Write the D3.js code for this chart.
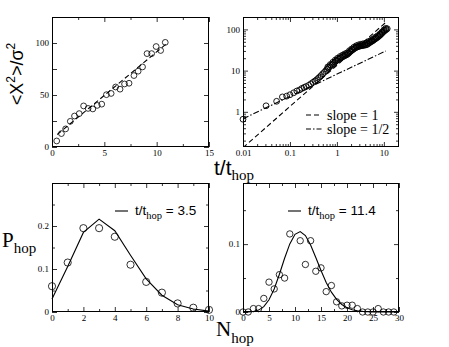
<!DOCTYPE html>
<html>
<head>
<meta charset="utf-8">
<script src="https://cdn.jsdelivr.net/npm/d3@7"></script>
<style>
body { margin: 0; background: #fff; }
.tick text { font-family: "Liberation Serif", "Times New Roman", serif; font-size: 9px; fill: #000; }
.tick line { stroke: #000; stroke-width: 0.8; }
.sans { font-family: "Liberation Sans", Arial, sans-serif; }
.serif { font-family: "Liberation Serif", "Times New Roman", serif; }
</style>
</head>
<body>
<svg id="chart" width="449" height="347"></svg>
<script>
// ---- top left: <X^2>/sigma^2 vs t/t_hop (linear)
var msdT = [0.45, 0.9, 1.3, 1.75, 2.15, 2.6, 3.02, 3.45, 3.9, 4.32, 4.75, 5.2, 5.65, 6.08, 6.5, 6.93, 7.36, 7.83, 8.23, 8.65, 9.08, 9.52, 9.95, 10.38, 10.82];
var msdV = [5.8, 12.9, 17.4, 24.7, 29.8, 32.1, 39.5, 37.1, 36.6, 40, 41.2, 50.3, 51.5, 57.7, 55.6, 60.6, 61.3, 68.7, 72.9, 77, 89.8, 89.8, 96.6, 92.8, 100.6];
var fitT = [0.5, 10.9];
var fitV = [12, 99];

// ---- top right: same on log-log
var logT = [0.01, 0.031, 0.052, 0.069, 0.085, 0.1, 0.12, 0.14, 0.16, 0.18, 0.2, 0.22, 0.25, 0.28,
  0.31, 0.34, 0.37, 0.4, 0.43, 0.46, 0.5, 0.54, 0.58, 0.62, 0.66, 0.7, 0.75, 0.8, 0.85, 0.9, 0.95,
  1.0, 1.07, 1.14, 1.21, 1.28, 1.36, 1.44, 1.52, 1.61, 1.7, 1.8, 1.9, 2.0, 2.12, 2.24, 2.36, 2.5,
  2.64, 2.78, 2.94, 3.1, 3.27, 3.45, 3.64, 3.84, 4.05, 4.27, 4.5, 4.75, 5.0, 5.27, 5.55, 5.85,
  6.16, 6.49, 6.84, 7.2, 7.6, 8.0, 8.4, 8.85, 9.3, 9.8, 10.3, 10.8, 11.3, 11.8];
var logV = [0.66, 1.4, 1.8, 2.3, 2.4, 2.6, 2.9, 3.2, 3.4, 3.7, 3.9, 4.1, 4.4, 4.8,
  5.2, 5.6, 6.0, 6.5, 7.0, 7.6, 8.4, 9.1, 10.0, 10.8, 11.6, 12.4, 13.3, 14.2, 15.0, 16.0, 17.0,
  17.8, 18.8, 19.8, 20.5, 21.2, 22.0, 22.8, 23.5, 24.2, 25.3, 26.8, 28.5, 30.0, 31.5, 33.0, 34.5, 36.0,
  37.0, 38.0, 38.8, 39.5, 40.0, 40.5, 41.0, 41.5, 42.0, 42.5, 44.0, 46.0, 48.0, 50.0, 51.5, 53.5,
  56.0, 58.5, 61.0, 63.5, 66.5, 70.0, 73.5, 78.0, 83.0, 88.0, 92.0, 97.0, 100.0, 104.0];
// the upper edge of the dense band
var logT2 = [0.64, 0.72, 0.82, 0.92, 1.03, 1.17, 1.32, 1.48, 1.65, 1.85, 2.06, 2.3, 2.57, 2.86,
  3.18, 3.54, 3.94, 4.38, 4.87, 5.4, 6.0, 6.66, 7.4, 8.2, 9.05, 10.0, 11.0];
var logV2 = [12.3, 14.0, 16.0, 18.0, 20.0, 22.0, 23.8, 25.5, 27.0, 30.5, 33.5, 37.0, 40.0, 42.0,
  43.5, 44.5, 45.5, 47.5, 51.5, 55.0, 59.0, 65.0, 70.0, 77.0, 86.0, 97.0, 106.0];
var slope1T = [0.01, 11.5];
var slope1V = [0.135, 155];
var slopeHalfT = [0.01, 11];
var slopeHalfV = [0.68, 30];

// ---- bottom left: P_hop vs N_hop, t/t_hop = 3.5
var blN = [0, 1, 2, 3, 4, 5, 6, 7, 8, 9, 10];
var blP = [0.06, 0.115, 0.195, 0.195, 0.175, 0.11, 0.07, 0.045, 0.02, 0.01, 0.005];
var blFit = [0.03, 0.106, 0.185, 0.216, 0.189, 0.132, 0.077, 0.039, 0.017, 0.007, 0.002];

// ---- bottom right: P_hop vs N_hop, t/t_hop = 11.4
var brN = [0, 1, 2, 3, 4, 5, 6, 7, 8, 9, 11, 12, 13, 14, 15, 16, 17, 18, 19, 20, 21, 22, 23, 24, 25, 26, 27, 28, 29];
var brP = [0, 0, 0.005, 0.005, 0.02, 0.044, 0.034, 0.055, 0.05, 0.115, 0.105, 0.07, 0.105, 0.06, 0.065, 0.03, 0.039, 0.015, 0.009, 0.01, 0.01, 0.005, 0, 0, 0, 0.005, 0, 0, 0];
var brFitN = [0, 1, 2, 3, 4, 5, 6, 7, 8, 9, 10, 11, 12, 13, 14, 15, 16, 17, 18, 19, 20, 21, 22, 23, 24, 25, 26, 27, 28, 29, 30];
var brFit = [0.00001, 0.00013, 0.00073, 0.0028, 0.0079, 0.018, 0.034, 0.0556, 0.0792, 0.1003, 0.1144, 0.1185, 0.1126, 0.0987, 0.0804, 0.0611, 0.0435, 0.0292, 0.0185, 0.0111, 0.0063, 0.0034, 0.0018, 0.0009, 0.0004, 0.0002, 0.0001, 0, 0, 0, 0];

var svg = d3.select("#chart");

function zip(a, b) { return a.map(function(d, i) { return [d, b[i]]; }); }

function logMinor(lo, hi) {
  var out = [];
  for (var e = -3; e <= 3; e++)
    for (var m = 2; m <= 9; m++) {
      var v = m * Math.pow(10, e);
      if (v > lo && v < hi) out.push(v);
    }
  return out;
}

// one framed panel, ticks inside on all four sides, labels bottom/left
function panel(id, x, y, xMaj, xMin, yMaj, yMin, xLab, yLab) {
  var r = x.range(), s = y.range();
  var w = r[1] - r[0], h = s[0] - s[1];
  var g = svg.append("g").attr("transform", "translate(" + r[0] + "," + s[1] + ")");
  var xs = x.copy().range([0, w]), ys = y.copy().range([h, 0]);

  g.append("clipPath").attr("id", id).append("rect").attr("width", w).attr("height", h);

  function ax(fn, sc, vals, size, labelled, tr, fmt) {
    var a = fn(sc).tickValues(vals).tickSize(-size).tickSizeOuter(0).tickPadding(3);
    a.tickFormat(labelled ? fmt : "");
    g.append("g").attr("transform", tr).call(a).call(function(s) { s.select(".domain").remove(); });
  }
  var tb = "translate(0," + h + ")", tr = "translate(" + w + ",0)";
  ax(d3.axisBottom, xs, xLab, 5, true, tb, function(d) { return String(d); });
  ax(d3.axisBottom, xs, xMaj.filter(function(d) { return xLab.indexOf(d) < 0; }), 5, false, tb);
  ax(d3.axisBottom, xs, xMin, 3, false, tb);
  ax(d3.axisTop, xs, xMaj, 5, false, "");
  ax(d3.axisTop, xs, xMin, 3, false, "");
  ax(d3.axisLeft, ys, yLab, 5, true, "", function(d) { return String(d); });
  ax(d3.axisLeft, ys, yMaj.filter(function(d) { return yLab.indexOf(d) < 0; }), 5, false, "");
  ax(d3.axisLeft, ys, yMin, 3, false, "");
  ax(d3.axisRight, ys, yMaj, 5, false, tr);
  ax(d3.axisRight, ys, yMin, 3, false, tr);

  g.append("rect").attr("x", 0.5).attr("y", 0.5).attr("width", w - 1).attr("height", h - 1)
    .attr("fill", "none").attr("stroke", "#000").attr("stroke-width", 1);
  return {g: g, x: xs, y: ys};
}

function circles(p, pts, r, sw) {
  p.g.append("g").selectAll("circle").data(pts).enter().append("circle")
    .attr("cx", function(d) { return p.x(d[0]); })
    .attr("cy", function(d) { return p.y(d[1]); })
    .attr("r", r).attr("fill", "none").attr("stroke", "#000").attr("stroke-width", sw || 0.8);
}

function line(p, pts, dash, clip) {
  var ln = d3.line().x(function(d) { return p.x(d[0]); }).y(function(d) { return p.y(d[1]); });
  p.g.append("path").datum(pts).attr("d", ln).attr("fill", "none").attr("stroke", "#000")
    .attr("stroke-width", 1.1).attr("stroke-dasharray", dash)
    .attr("clip-path", clip ? "url(#" + clip + ")" : null);
}

// --- top left
var p1 = panel("c1",
  d3.scaleLinear().domain([0, 15]).range([52, 209]),
  d3.scaleLinear().domain([0, 125]).range([147, 17]),
  [0, 5, 10, 15], [2.5, 7.5, 12.5], [0, 25, 50, 75, 100, 125], [], [0, 5, 10, 15], [0, 50, 100]);
line(p1, zip(fitT, fitV), "5,3");
circles(p1, zip(msdT, msdV), 2.9);

// --- top right
var p2 = panel("c2",
  d3.scaleLog().domain([0.01, 21]).range([243, 399]),
  d3.scaleLog().domain([0.14, 200]).range([147, 17]),
  [0.01, 0.1, 1, 10], logMinor(0.01, 21), [1, 10, 100], logMinor(0.14, 200), [0.01, 0.1, 1, 10], [1, 10, 100]);
line(p2, zip(slope1T, slope1V), "5,3", "c2");
line(p2, zip(slopeHalfT, slopeHalfV), "6,2,1.5,2", "c2");
circles(p2, zip(logT, logV), 2.9, 0.9);
circles(p2, zip(logT2, logV2), 2.9, 0.9);

// --- bottom left
var p3 = panel("c3",
  d3.scaleLinear().domain([0, 10]).range([52, 209]),
  d3.scaleLinear().domain([0, 0.3]).range([312, 183]),
  [0, 2, 4, 6, 8, 10], [1, 3, 5, 7, 9], [0, 0.1, 0.2, 0.3], [0.05, 0.15, 0.25], [0, 2, 4, 6, 8, 10], [0, 0.1, 0.2]);
line(p3, zip(blN, blFit), null);
circles(p3, zip(blN, blP), 3.6);

// --- bottom right
var p4 = panel("c4",
  d3.scaleLinear().domain([0, 30]).range([243, 399]),
  d3.scaleLinear().domain([0, 0.19]).range([312, 183]),
  [0, 5, 10, 15, 20, 25, 30], [2.5, 7.5, 12.5, 17.5, 22.5, 27.5], [0, 0.1], [0.05, 0.15], [0, 5, 10, 15, 20, 25, 30], [0, 0.1]);
line(p4, zip(brFitN, brFit), null);
circles(p4, zip(brN, brP), 3.2);

// --- legends
var lg = svg.append("g");
function legRow(x, y, dash, txt) {
  lg.append("line").attr("x1", x).attr("x2", x + 16).attr("y1", y).attr("y2", y)
    .attr("stroke", "#000").attr("stroke-width", 1.1).attr("stroke-dasharray", dash);
  lg.append("text").attr("class", "serif").attr("x", x + 21).attr("y", y + 4.5)
    .attr("font-size", 14).text(txt);
}
legRow(306, 115, "5,3", "slope = 1");
legRow(306, 129, "5,2,1.5,2", "slope = 1/2");

function fitLegend(x, y, val) {
  lg.append("line").attr("x1", x).attr("x2", x + 13).attr("y1", y).attr("y2", y)
    .attr("stroke", "#000").attr("stroke-width", 1.1);
  var t = lg.append("text").attr("class", "sans").attr("x", x + 20).attr("y", y + 3.5).attr("font-size", 13.5);
  t.append("tspan").text("t/t");
  t.append("tspan").attr("class", "serif").attr("font-size", 10.5).attr("dy", 4).text("hop");
  t.append("tspan").attr("dy", -4).text(" = " + val);
}
fitLegend(115, 211, "3.5");
fitLegend(288, 211, "11.4");

// --- axis titles
var ylab = svg.append("text").attr("class", "sans").attr("font-size", 18)
  .attr("transform", "translate(23,74) rotate(-90)").attr("text-anchor", "middle");
ylab.append("tspan").text("<X");
ylab.append("tspan").attr("font-size", 12).attr("dy", -8).text("2");
ylab.append("tspan").attr("dy", 8).text(">/σ");
ylab.append("tspan").attr("font-size", 12).attr("dy", -8).text("2");

var tlab = svg.append("text").attr("class", "sans").attr("font-size", 21).attr("x", 214).attr("y", 175);
tlab.append("tspan").text("t/t");
tlab.append("tspan").attr("class", "serif").attr("font-size", 15).attr("dy", 5).text("hop");

var plab = svg.append("text").attr("class", "serif").attr("font-size", 21).attr("x", 2).attr("y", 247);
plab.append("tspan").text("P");
plab.append("tspan").attr("font-size", 15).attr("dy", 6).text("hop");

var nlab = svg.append("text").attr("class", "serif").attr("font-size", 21).attr("x", 216).attr("y", 336);
nlab.append("tspan").text("N");
nlab.append("tspan").attr("font-size", 15).attr("dy", 7).text("hop");
</script>
</body>
</html>
